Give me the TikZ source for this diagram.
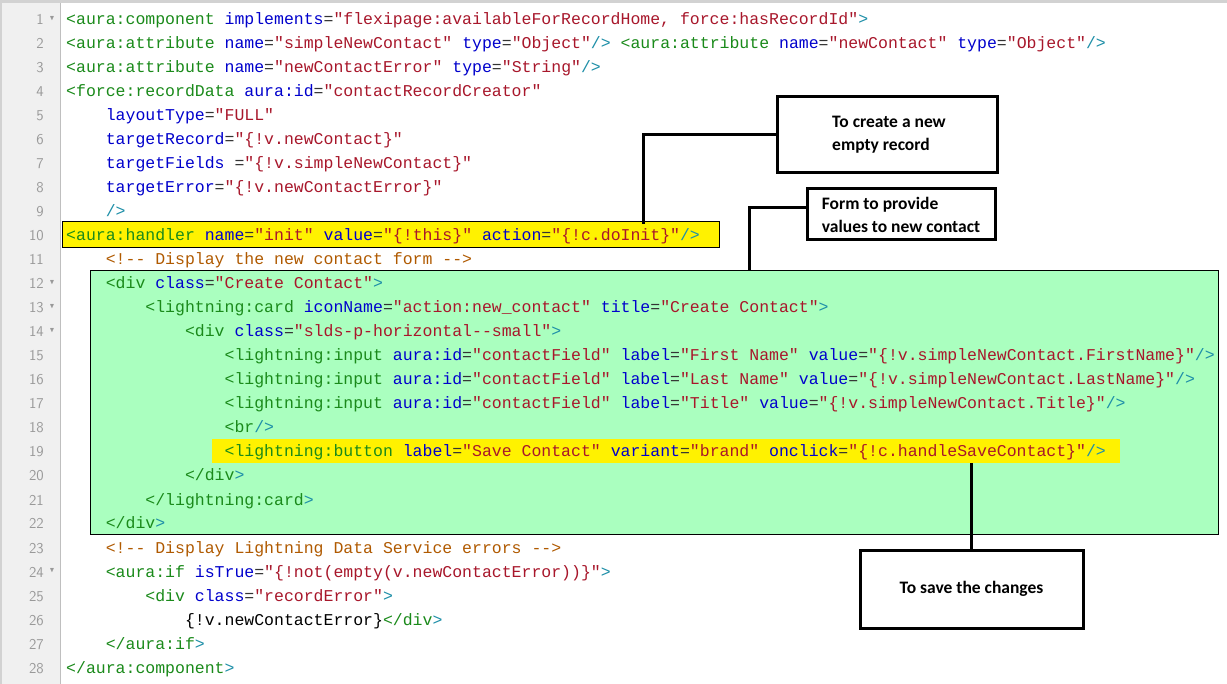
\documentclass[tikz,border=0pt]{standalone}
\usepackage{amssymb}
\usepackage{fontspec}
\setmonofont{Liberation Mono}
\newfontfamily\boxfont{Carlito}
\definecolor{tagc}{HTML}{1A8A1A}
\definecolor{attc}{HTML}{0000CC}
\definecolor{strc}{HTML}{A8172B}
\definecolor{punc}{HTML}{1E8FA8}
\definecolor{cmc}{HTML}{B05A00}
\definecolor{eqc}{HTML}{333333}
\definecolor{gutc}{HTML}{F0F0F0}
\definecolor{numc}{HTML}{999999}
\definecolor{hly}{HTML}{FFF200}
\definecolor{hlg}{HTML}{AAFFBF}
\newcommand\Tg[1]{\textcolor{tagc}{#1}}
\newcommand\At[1]{\textcolor{attc}{#1}}
\newcommand\St[1]{\textcolor{strc}{#1}}
\newcommand\Pu[1]{\textcolor{punc}{#1}}
\newcommand\Cm[1]{\textcolor{cmc}{#1}}
\newcommand\Eq{\textcolor{eqc}{=}}
\begin{document}
\begin{tikzpicture}[x=1pt,y=-1pt,
  code/.style={anchor=base west,inner sep=0pt,font=\ttfamily\fontsize{16.5}{18}\selectfont},
  num/.style={anchor=base east,inner sep=0pt,text=numc,font=\sffamily\fontsize{15}{18}\selectfont},
  fold/.style={anchor=center,inner sep=0pt,text=numc,font=\fontsize{7}{8}\selectfont},
  note/.style={draw=black,line width=3pt,fill=white,align=left,font=\fontsize{17.5}{23}\boxfont\bfseries\selectfont},
  conn/.style={line width=3pt}]
\useasboundingbox (0,0) rectangle (1227,684);
\fill[white] (0,0) rectangle (1227,684);
\fill[gutc] (0,0) rectangle (60,684);
\draw[gray!50,line width=0.8pt] (60,0) -- (60,684);
\fill[gray!35] (0,0) rectangle (1227,3);
\fill[gray!35] (0,0) rectangle (2,684);
% highlights
\filldraw[fill=hly,draw=black,line width=1pt] (62,222) rectangle (719,248);
\filldraw[fill=hlg,draw=black,line width=1pt] (90,271) rectangle (1218,534);
\fill[hly] (212,439) rectangle (1120,463);
% line numbers
\foreach \n in {1,...,28}{\node[num] (n\n) at (44,{19+24*(\n-1)+6}) {\n};}
\foreach \n in {1,12,13,14,24}{\node[fold] (f\n) at (52,{19+24*(\n-1)}) {$\blacktriangledown$};}
% code
\def\cx#1{66+39.6*#1}
\def\cy#1{19+24*(#1-1)+6}
\node[code] (l1) at ({\cx0},{\cy1}) {\Tg{<aura:component} \At{implements}\Eq\St{"flexipage:availableForRecordHome, force:hasRecordId"}\Pu{>}};
\node[code] (l2) at ({\cx0},{\cy2}) {\Tg{<aura:attribute} \At{name}\Eq\St{"simpleNewContact"} \At{type}\Eq\St{"Object"}\Pu{/>} \Tg{<aura:attribute} \At{name}\Eq\St{"newContact"} \At{type}\Eq\St{"Object"}\Pu{/>}};
\node[code] (l3) at ({\cx0},{\cy3}) {\Tg{<aura:attribute} \At{name}\Eq\St{"newContactError"} \At{type}\Eq\St{"String"}\Pu{/>}};
\node[code] (l4) at ({\cx0},{\cy4}) {\Tg{<force:recordData} \At{aura:id}\Eq\St{"contactRecordCreator"}};
\node[code] (l5) at ({\cx1},{\cy5}) {\At{layoutType}\Eq\St{"FULL"}};
\node[code] (l6) at ({\cx1},{\cy6}) {\At{targetRecord}\Eq\St{"\{!v.newContact\}"}};
\node[code] (l7) at ({\cx1},{\cy7}) {\At{targetFields} \Eq\St{"\{!v.simpleNewContact\}"}};
\node[code] (l8) at ({\cx1},{\cy8}) {\At{targetError}\Eq\St{"\{!v.newContactError\}"}};
\node[code] (l9) at ({\cx1},{\cy9}) {\Pu{/>}};
\node[code] (l10) at ({\cx0},{\cy{10}}) {\Tg{<aura:handler} \At{name}\Eq\St{"init"} \At{value}\Eq\St{"\{!this\}"} \At{action}\Eq\St{"\{!c.doInit\}"}\Pu{/>}};
\node[code] (l11) at ({\cx1},{\cy{11}}) {\Cm{<!-- Display the new contact form -->}};
\node[code] (l12) at ({\cx1},{\cy{12}}) {\Tg{<div} \At{class}\Eq\St{"Create Contact"}\Pu{>}};
\node[code] (l13) at ({\cx2},{\cy{13}}) {\Tg{<lightning:card} \At{iconName}\Eq\St{"action:new\_contact"} \At{title}\Eq\St{"Create Contact"}\Pu{>}};
\node[code] (l14) at ({\cx3},{\cy{14}}) {\Tg{<div} \At{class}\Eq\St{"slds-p-horizontal--small"}\Pu{>}};
\node[code] (l15) at ({\cx4},{\cy{15}}) {\Tg{<lightning:input} \At{aura:id}\Eq\St{"contactField"} \At{label}\Eq\St{"First Name"} \At{value}\Eq\St{"\{!v.simpleNewContact.FirstName\}"}\Pu{/>}};
\node[code] (l16) at ({\cx4},{\cy{16}}) {\Tg{<lightning:input} \At{aura:id}\Eq\St{"contactField"} \At{label}\Eq\St{"Last Name"} \At{value}\Eq\St{"\{!v.simpleNewContact.LastName\}"}\Pu{/>}};
\node[code] (l17) at ({\cx4},{\cy{17}}) {\Tg{<lightning:input} \At{aura:id}\Eq\St{"contactField"} \At{label}\Eq\St{"Title"} \At{value}\Eq\St{"\{!v.simpleNewContact.Title\}"}\Pu{/>}};
\node[code] (l18) at ({\cx4},{\cy{18}}) {\Tg{<br}\Pu{/>}};
\node[code] (l19) at ({\cx4},{\cy{19}}) {\Tg{<lightning:button} \At{label}\Eq\St{"Save Contact"} \At{variant}\Eq\St{"brand"} \At{onclick}\Eq\St{"\{!c.handleSaveContact\}"}\Pu{/>}};
\node[code] (l20) at ({\cx3},{\cy{20}}) {\Tg{</div}\Pu{>}};
\node[code] (l21) at ({\cx2},{\cy{21}}) {\Tg{</lightning:card}\Pu{>}};
\node[code] (l22) at ({\cx1},{\cy{22}}) {\Tg{</div}\Pu{>}};
\node[code] (l23) at ({\cx1},{\cy{23}}) {\Cm{<!-- Display Lightning Data Service errors -->}};
\node[code] (l24) at ({\cx1},{\cy{24}}) {\Tg{<aura:if} \At{isTrue}\Eq\St{"\{!not(empty(v.newContactError))\}"}\Pu{>}};
\node[code] (l25) at ({\cx2},{\cy{25}}) {\Tg{<div} \At{class}\Eq\St{"recordError"}\Pu{>}};
\node[code] (l26) at ({\cx3},{\cy{26}}) {\{!v.newContactError\}\Tg{</div}\Pu{>}};
\node[code] (l27) at ({\cx1},{\cy{27}}) {\Tg{</aura:if}\Pu{>}};
\node[code] (l28) at ({\cx0},{\cy{28}}) {\Tg{</aura:component}\Pu{>}};
% annotation boxes
\node[note,minimum width=220pt,minimum height=76pt,inner xsep=0pt] (b1) at (887,135) {\hspace*{4pt}To create a new\\\hspace*{4pt}empty record};
\node[note,minimum width=188pt,minimum height=51pt,inner xsep=6pt] (b2) at (901,214.5) {Form to provide\\values to new contact};
\node[note,minimum width=223pt,minimum height=78pt,align=center] (b3) at (971.5,589) {To save the changes};
\coordinate (c1) at (643,224);
\coordinate (c2) at (749,271);
\coordinate (c3) at (971.5,463);
\draw[conn] (b1.west) -| (c1);
\draw[conn] (b2.west |- 0,208) -| (c2);
\draw[conn] (b3.north) -- (c3);
\end{tikzpicture}
\end{document}
